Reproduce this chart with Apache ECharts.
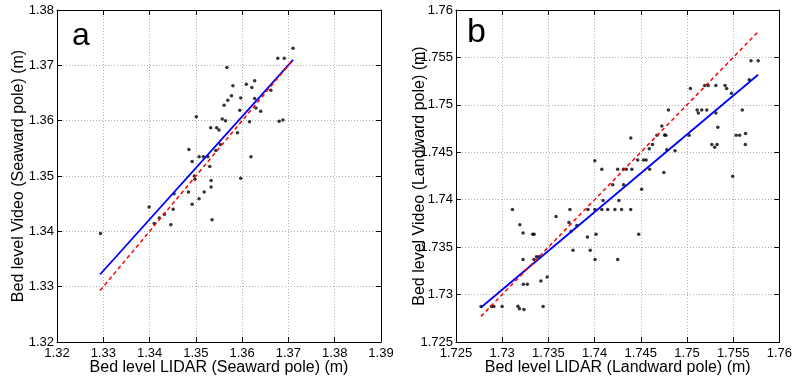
<!DOCTYPE html>
<html>
<head>
<meta charset="utf-8">
<script src="https://cdn.jsdelivr.net/npm/echarts@6/dist/echarts.min.js"></script>
<style>
html,body{margin:0;padding:0;background:#fff;}
#chart{width:795px;height:381px;}
</style>
</head>
<body>
<div id="chart"></div>
<script>
// ---- Panel a: Seaward pole ----
const seawardLidar = [1.3710,1.3677,1.3691,1.3567,1.3627,1.3609,1.3621,1.3580,1.3662,1.3577,
  1.3627,1.3597,1.3569,1.3561,1.3630,1.3595,1.3640,1.3501,1.3557,1.3564,
  1.3616,1.3680,1.3688,1.3532,1.3545,1.3550,1.3590,1.3553,1.3543,1.3485,
  1.3619,1.3507,1.3516,1.3526,1.3492,1.3530,1.3497,1.3498,1.3597,1.3533,
  1.3533,1.3518,1.3484,1.3453,1.3507,1.3492,1.3451,1.3399,1.3432,1.3421,
  1.3410,1.3446,1.3535,1.3294];
const seawardVideo = [1.3731,1.3713,1.3713,1.3696,1.3672,1.3666,1.3660,1.3663,1.3655,1.3645,
  1.3640,1.3641,1.3637,1.3628,1.3623,1.3619,1.3617,1.3607,1.3603,1.3600,
  1.3598,1.3599,1.3601,1.3587,1.3587,1.3583,1.3578,1.3557,1.3546,1.3548,
  1.3535,1.3535,1.3535,1.3535,1.3526,1.3517,1.3500,1.3494,1.3496,1.3492,
  1.3480,1.3471,1.3471,1.3468,1.3459,1.3449,1.3440,1.3444,1.3431,1.3424,
  1.3414,1.3412,1.3421,1.3396];
const seawardFitLidar = [1.3293, 1.3710];
const seawardFitVideo = [1.3322, 1.3710];
const seawardOneToOne = [1.3293, 1.3710];
const seawardTicks = [1.32,1.33,1.34,1.35,1.36,1.37,1.38,1.39];
const seawardYTicks = [1.32,1.33,1.34,1.35,1.36,1.37,1.38];

// ---- Panel b: Landward pole ----
const landwardLidar = [1.75693,1.75771,1.75674,1.75037,1.75192,1.75230,1.75313,1.75412,1.75430,1.75482,
  1.74799,1.75110,1.75160,1.75214,1.75123,1.75313,1.75599,1.74728,1.75334,1.74675,
  1.74758,1.74771,1.75024,1.75532,1.75570,1.75634,1.74392,1.74627,1.74592,1.75269,
  1.75300,1.75326,1.75632,1.74782,1.74871,1.74003,1.74467,1.74530,1.74558,1.74078,
  1.74250,1.74312,1.74344,1.74403,1.74596,1.74750,1.75495,1.74196,1.74314,1.74509,
  1.74092,1.74263,1.74003,1.74078,1.74142,1.74220,1.74292,1.74391,1.73928,1.73733,
  1.73111,1.73583,1.73191,1.73722,1.73808,1.73746,1.73226,1.73330,1.73346,1.74016,
  1.74478,1.73923,1.73767,1.73953,1.73226,1.73344,1.73371,1.73398,1.74005,1.74250,
  1.73487,1.73419,1.73229,1.73272,1.72771,1.72884,1.72910,1.72999,1.73170,1.73187,
  1.73235,1.73443];
const landwardVideo = [1.75465,1.75465,1.75264,1.75172,1.75204,1.75204,1.75204,1.75204,1.75172,1.75122,
  1.74945,1.74945,1.74945,1.74945,1.74913,1.74913,1.74945,1.74778,1.74765,1.74680,
  1.74682,1.74680,1.74680,1.74680,1.74680,1.74699,1.74651,1.74582,1.74538,1.74583,
  1.74553,1.74583,1.74583,1.74527,1.74516,1.74411,1.74418,1.74418,1.74418,1.74321,
  1.74321,1.74321,1.74321,1.74321,1.74321,1.74286,1.74247,1.74157,1.74157,1.74111,
  1.73993,1.73993,1.73896,1.73896,1.73896,1.73896,1.73896,1.73896,1.73896,1.73896,
  1.73896,1.73822,1.73737,1.73760,1.73729,1.73668,1.73649,1.73636,1.73636,1.73636,
  1.73636,1.73607,1.73467,1.73467,1.73369,1.73369,1.73399,1.73399,1.73369,1.73369,
  1.73184,1.73144,1.73108,1.73108,1.72875,1.72875,1.72875,1.72875,1.72877,1.72851,
  1.72842,1.72875];
const landwardFitLidar = [1.7277, 1.7577];
const landwardFitVideo = [1.72864, 1.75317];
const landwardOneToOne = [1.7277, 1.7577];
const landwardTicks = [1.725,1.73,1.735,1.74,1.745,1.75,1.755,1.76];

const FONT = 'Liberation Sans, Arial, Helvetica, sans-serif';
const fmt = v => String(parseFloat(Number(v).toFixed(3)));

function pairs(xs, ys){ return xs.map((x,i)=>[x, ys[i]]); }

function axisPair(gridIndex, ticks, isX, name, nameGap){
  const min = ticks[0], max = ticks[ticks.length-1], interval = +(ticks[1]-ticks[0]).toFixed(4);
  const base = {
    gridIndex, type:'value', min, max, interval,
    axisLine:{show:true, onZero:false, lineStyle:{color:'#000', width:1}},
    axisTick:{show:true, inside:true, length:5, lineStyle:{color:'#000'}},
  };
  const main = Object.assign({}, base, {
    position: isX ? 'bottom' : 'left',
    name, nameLocation:'middle', nameGap, nameMoveOverlap:false,
    nameTextStyle:{fontFamily:FONT, fontSize:16, color:'#000'},
    axisLabel:{show:true, formatter:fmt, fontFamily:FONT, fontSize:13, color:'#000', margin: isX ? 5 : 3},
    splitLine:{show:true, lineStyle:{color:'#b0b0b0', width:1, type:[1,2]}}
  });
  const other = Object.assign({}, base, {
    position: isX ? 'top' : 'right',
    axisLabel:{show:false}, splitLine:{show:false}
  });
  return [main, other];
}

const xa = axisPair(0, seawardTicks, true, 'Bed level LIDAR (Seaward pole) (m)', 18);
const xb = axisPair(1, landwardTicks, true, 'Bed level LIDAR (Landward pole) (m)', 18);
const ya = axisPair(0, seawardYTicks, false, 'Bed level Video (Seaward pole) (m)', 30);
const yb = axisPair(1, landwardTicks, false, 'Bed level Video (Landward pole) (m)', 28);

const option = {
  animation:false,
  backgroundColor:'#fff',
  grid:[
    {left:57, top:10, right:414, bottom:39},
    {left:456, top:10, right:13, bottom:39}
  ],
  xAxis:[xa[0], xa[1], xb[0], xb[1]],
  yAxis:[ya[0], ya[1], yb[0], yb[1]],
  graphic:[
    {type:'text', left:72, top:20, style:{text:'a', font:'32px '+FONT, fill:'#000'}},
    {type:'text', left:467, top:16, style:{text:'b', font:'34px '+FONT, fill:'#000'}}
  ],
  series:[
    {type:'scatter', xAxisIndex:0, yAxisIndex:0, data:pairs(seawardLidar, seawardVideo),
      symbol:'circle', symbolSize:3.5, itemStyle:{color:'#000'}, z:3},
    {type:'line', xAxisIndex:0, yAxisIndex:0, data:pairs(seawardFitLidar, seawardFitVideo),
      symbol:'none', lineStyle:{color:'#0000ff', width:1.8}, z:4},
    {type:'line', xAxisIndex:0, yAxisIndex:0, data:pairs(seawardOneToOne, seawardOneToOne),
      symbol:'none', lineStyle:{color:'#ff0000', width:1.5, type:[4,3]}, z:5},
    {type:'scatter', xAxisIndex:2, yAxisIndex:2, data:pairs(landwardLidar, landwardVideo),
      symbol:'circle', symbolSize:3.5, itemStyle:{color:'#000'}, z:3},
    {type:'line', xAxisIndex:2, yAxisIndex:2, data:pairs(landwardFitLidar, landwardFitVideo),
      symbol:'none', lineStyle:{color:'#0000ff', width:1.8}, z:4},
    {type:'line', xAxisIndex:2, yAxisIndex:2, data:pairs(landwardOneToOne, landwardOneToOne),
      symbol:'none', lineStyle:{color:'#ff0000', width:1.5, type:[4,3]}, z:5}
  ]
};
const chart = echarts.init(document.getElementById('chart'), null, {renderer:'canvas'});
chart.setOption(option);
</script>
</body>
</html>
